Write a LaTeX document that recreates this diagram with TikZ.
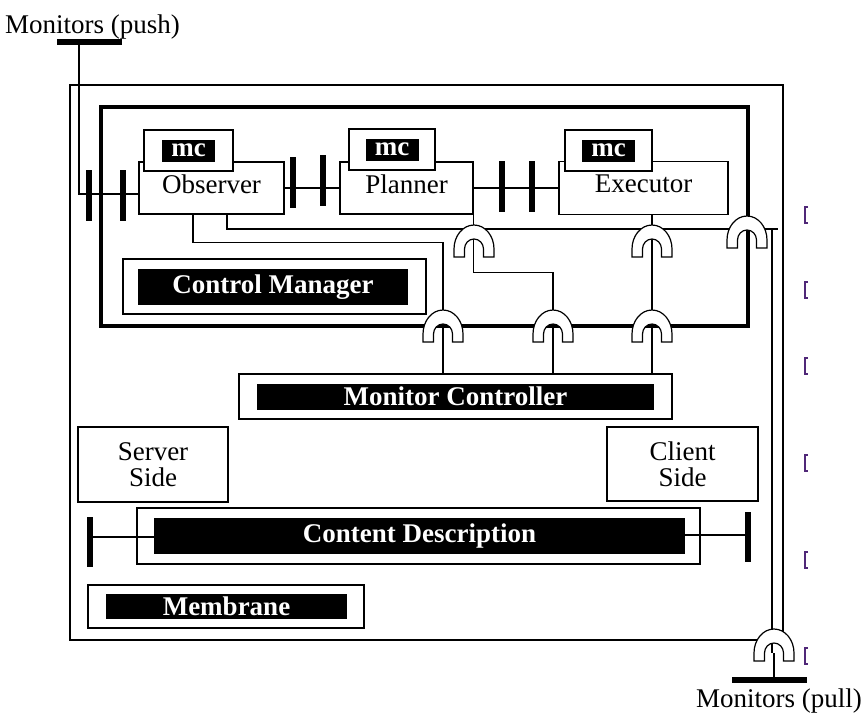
\documentclass[tikz,border=0pt]{standalone}
\usepackage{fontspec}
\setmainfont{Liberation Serif}
\begin{document}
\begin{tikzpicture}[x=1pt,y=1pt,yscale=-1,xscale=1,
		font=\fontsize{27}{26}\selectfont,
		box/.style={draw,line width=1.2pt,fill=white,inner sep=0pt},
		comp/.style={box,text depth=8pt},
		tag/.style={fill=black,text=white,inner sep=0pt,font=\fontsize{27}{26}\selectfont\bfseries},
		wire/.style={line width=1.2pt},
		port/.style={line width=6pt},
		brk/.style={draw={rgb,255:red,80;green,40;blue,120},line width=1.2pt},
		pics/socket/.style={code={
			\draw[line width=1.2pt,fill=white] (-20,-8) -- (-20,0) arc[start angle=180,end angle=0,x radius=20,y radius=24] -- (20,-8) -- (9.5,-8) -- (9.5,0) arc[start angle=0,end angle=180,x radius=9.5,y radius=10] -- (-9.5,-8) -- cycle ;
		}}]
			\useasboundingbox (0,0) rectangle (861,712);

			%Shape: Rectangle (membrane)
			\node[draw,line width=1.2pt,inner sep=0pt,minimum width=713,minimum height=555] (membrane) at (426.5,362.5) {};
			%Shape: Rectangle (controller)
			\node[draw,line width=3.5pt,inner sep=0pt,minimum width=647,minimum height=219] (controller) at (424.5,216.5) {};

			%Shape: Rectangle (components)
			\node[comp,minimum width=145,minimum height=52] (obs) at (211.5,188) {Observer};
			\node[box,minimum width=89,minimum height=41] (obsmc) at (188.5,150.5) {};
			\node[tag,minimum width=53,minimum height=22] (obstag) at (obsmc.center) {mc};
			\node[comp,minimum width=133,minimum height=52] (plan) at (406.5,188) {Planner};
			\node[box,minimum width=86,minimum height=41] (planmc) at (392,149.5) {};
			\node[tag,minimum width=53,minimum height=22] (plantag) at (planmc.center) {mc};
			\node[comp,minimum width=169,minimum height=53] (exec) at (643.5,188) {Executor};
			\node[box,minimum width=87,minimum height=41] (execmc) at (608.5,150.5) {};
			\node[tag,minimum width=53,minimum height=22] (exectag) at (execmc.center) {mc};

			%Shape: Rectangle (managers)
			\node[box,minimum width=303,minimum height=55] (cm) at (274.5,286.5) {};
			\node[tag,minimum width=270,minimum height=36] (cmtag) at (273,287) {Control Manager};
			\node[box,minimum width=433,minimum height=45] (mctrl) at (455.5,396.5) {};
			\node[tag,minimum width=397,minimum height=26] (mctrltag) at (mctrl.center) {Monitor Controller};
			\node[box,align=center,minimum width=150,minimum height=75] (server) at (153,464.5) {Server\\Side};
			\node[box,align=center,minimum width=151,minimum height=74] (client) at (682.5,464) {Client\\Side};
			\node[box,minimum width=563,minimum height=56] (cdesc) at (418.5,536) {};
			\node[tag,minimum width=531,minimum height=36] (cdesctag) at (419.5,536) {Content Description};
			\node[box,minimum width=276,minimum height=43] (memb) at (226,606.5) {};
			\node[tag,minimum width=241,minimum height=25] (membtag) at (226.5,606.5) {Membrane};

			%Coordinates
			\coordinate (pushbar) at (79,42);
			\coordinate (obsin) at (139,194);
			\coordinate (s1) at (474,249);
			\coordinate (s2) at (652,249);
			\coordinate (s3) at (747,240);
			\coordinate (b1) at (443,334);
			\coordinate (b2) at (553,334);
			\coordinate (b3) at (652,334);
			\coordinate (tap) at (772,229);
			\coordinate (spull) at (774,653);
			\coordinate (pullbar) at (774,680);
			\coordinate (cdl) at (90,537);
			\coordinate (cdr) at (748,535);

			%Straight Lines (push side)
			\draw[wire] (pushbar) |- (obsin);
			\draw[port] (57,42) -- (122,42);
			\draw[port] (89,170) -- (89,221);
			\draw[port] (123,170) -- (123,221);
			%Straight Lines (bindings)
			\draw[wire] (obs.east) -- (plan.west);
			\draw[port] (293,157) -- (293,208);
			\draw[port] (323,155) -- (323,206);
			\draw[wire] (plan.east) -- (exec.west);
			\draw[port] (502,161) -- (502,212);
			\draw[port] (532,161) -- (532,212);

			%Straight Lines (monitor wires)
			\draw[wire] ([xshift=-18.5pt]obs.south) -- ++(0,28) -| (b1) -- (b1 |- mctrl.north);
			\draw[wire] ([xshift=15.5pt]obs.south) |- (tap) -- ++(6,0);
			\draw[wire] (tap) -- (tap |- spull);
			\draw[wire] (plan.south east) -- ++(0,58) -| (b2) -- (b2 |- mctrl.north);
			\draw[wire] (b3 |- exec.south) -- (b3 |- mctrl.north);
			\draw[wire] (spull) -- (pullbar);
			\draw[port] (732,680) -- (807,680);

			%Straight Lines (content description)
			\draw[wire] (cdl) -- (cdesctag.west |- cdl);
			\draw[port] (90,517) -- (90,567);
			\draw[wire] (cdesctag.east |- cdr) -- (cdr);
			\draw[port] (748,512) -- (748,562);

			%Shape: Sockets
			\pic at (s1) {socket};
			\pic at (s2) {socket};
			\pic at (s3) {socket};
			\pic at (b1) {socket};
			\pic at (b2) {socket};
			\pic at (b3) {socket};
			\pic at (spull) {socket};

			%Shape: Brackets
			\draw[brk] (808,207) -- (805,207) -- (805,223) -- (808,223);
			\draw[brk] (808,282) -- (805,282) -- (805,298) -- (808,298);
			\draw[brk] (808,358) -- (805,358) -- (805,374) -- (808,374);
			\draw[brk] (808,455) -- (805,455) -- (805,471) -- (808,471);
			\draw[brk] (808,552) -- (805,552) -- (805,568) -- (808,568);
			\draw[brk] (808,648) -- (805,648) -- (805,664) -- (808,664);

			% Text Node
			\node[anchor=base west,inner sep=0pt] (pushlabel) at (5,33) {Monitors (push)};
			% Text Node
			\node[anchor=base west,inner sep=0pt] (pulllabel) at (696,707) {Monitors (pull)};

		\end{tikzpicture}
\end{document}
